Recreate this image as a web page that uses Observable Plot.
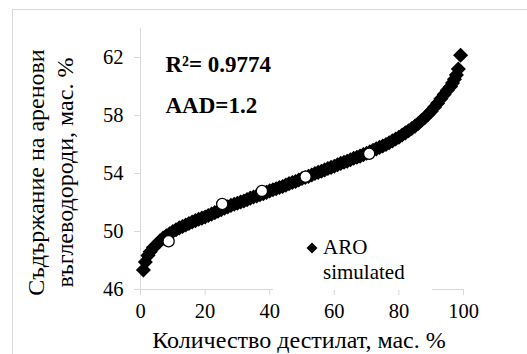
<!DOCTYPE html>
<html>
<head>
<meta charset="utf-8">
<script src="https://cdn.jsdelivr.net/npm/d3@7"></script>
<script src="https://cdn.jsdelivr.net/npm/@observablehq/plot@0.6"></script>
<style>
  html, body { margin: 0; padding: 0; background: #fff; overflow: hidden; }
  #wrap { position: relative; width: 527px; height: 354px; font-family: "Liberation Serif", "Times New Roman", serif !important; }
  #wrap svg, #wrap svg text, #wrap svg tspan { font-family: "Liberation Serif", "Times New Roman", serif !important; }
  #border { position: absolute; left: 12px; top: 9px; width: 600px; height: 400px; border: 1px solid #d9d9d9; box-sizing: border-box; }
  #chart { position: absolute; left: 0; top: 0; }
  #legend { position: absolute; left: 273px; top: 232px; width: 159px; height: 58px; background: #fff; font-size: 21px; color: #000; font-family: "Liberation Serif", "Times New Roman", serif !important; }
  #legend .l1 { position: absolute; left: 50px; top: 5px; line-height: 21px; white-space: nowrap; }
  #legend .l2 { position: absolute; left: 50px; top: 30px; line-height: 21px; white-space: nowrap; }
  #legend svg { position: absolute; left: 33px; top: 10px; }
</style>
</head>
<body>
<div id="wrap">
  <div id="border"></div>
  <div id="chart"></div>
  <div id="legend">
    <svg width="12" height="12" viewBox="-6 -6 12 12"><path d="M0,-5.5L5.5,0L0,5.5L-5.5,0Z" fill="#000"/></svg>
    <div class="l1">ARO</div>
    <div class="l2">simulated</div>
  </div>
</div>
<script>
// Simulated ARO content (diamonds)
const simX = [0.9, 1.5, 2.3, 3, 4, 5, 6, 7, 8, 9, 10, 11, 12, 13, 14, 15, 16, 17, 18, 19, 20,
  21, 22, 23, 24, 25, 26, 27, 28, 29, 30, 31, 32, 33, 34, 35, 36, 37, 38, 39, 40,
  41, 42, 43, 44, 45, 46, 47, 48, 49, 50, 51, 52, 53, 54, 55, 56, 57, 58, 59, 60,
  61, 62, 63, 64, 65, 66, 67, 68, 69, 70, 71, 72, 73, 74, 75, 76, 77, 78, 79, 80,
  81, 82, 83, 84, 85, 86, 87, 88, 89, 90, 91, 92, 93, 94, 95, 96, 96.6, 97.2, 97.8, 98.4, 99.1];
const simY = [47.35, 47.9, 48.35, 48.6, 48.9, 49.1, 49.35, 49.55, 49.7, 49.85, 50.0, 50.12, 50.25, 50.35, 50.45, 50.55, 50.65, 50.75, 50.85, 50.92, 51.0,
  51.1, 51.2, 51.3, 51.4, 51.5, 51.6, 51.7, 51.8, 51.88, 51.95, 52.03, 52.1, 52.2, 52.3, 52.38, 52.45, 52.53, 52.6, 52.7, 52.8,
  52.88, 52.95, 53.03, 53.1, 53.2, 53.3, 53.38, 53.45, 53.55, 53.65, 53.72, 53.8, 53.9, 54.0, 54.08, 54.15, 54.25, 54.35, 54.42, 54.5,
  54.6, 54.7, 54.78, 54.85, 54.95, 55.05, 55.12, 55.2, 55.3, 55.4, 55.5, 55.6, 55.7, 55.8, 55.9, 56.0, 56.12, 56.25, 56.38, 56.5,
  56.65, 56.8, 56.95, 57.1, 57.27, 57.45, 57.65, 57.85, 58.07, 58.3, 58.57, 58.85, 59.15, 59.45, 59.75, 60.0, 60.25, 60.5, 60.8, 61.2, 62.15];

// Experimental points (open circles)
const expX = [8.7, 25.3, 37.6, 51.1, 70.8];
const expY = [49.33, 51.9, 52.8, 53.78, 55.36];

const xTicks = [0, 20, 40, 60, 80, 100];
const yTicks = [46, 50, 54, 58, 62];

const statR2 = "R²= 0.9774";
const statAAD = "AAD=1.2";
const xTitle = "Количество дестилат, мас. %";
const yTitle = "Съдържание на аренови\nвъглеводороди, мас. %";

const sim = simX.map((x, i) => ({x, y: simY[i]}));
const exp = expX.map((x, i) => ({x, y: expY[i]}));

const axisGray = "#d9d9d9";
const serif = "Liberation Serif";

const chart = Plot.plot({
  width: 527,
  height: 354,
  marginLeft: 140,
  marginRight: 64,
  marginTop: 28,
  marginBottom: 65,
  style: {fontFamily: "'Liberation Serif', 'Times New Roman', serif", fontSize: "20px", color: "#000", background: "transparent", overflow: "visible"},
  x: {domain: [0, 100], axis: null},
  y: {domain: [46, 64], axis: null},
  marks: [
    Plot.ruleY([46], {stroke: axisGray, strokeWidth: 1}),
    Plot.ruleX([0], {stroke: axisGray, strokeWidth: 1}),
    Plot.axisX({ticks: xTicks, tickSize: 6, tickPadding: 8, stroke: axisGray, fill: "#000", label: null, fontSize: 20.5, fontFamily: serif}),
    Plot.axisY({ticks: yTicks, tickSize: 6, tickPadding: 11, stroke: axisGray, fill: "#000", label: null, fontSize: 20.5, fontFamily: serif}),
    Plot.dot(sim, {x: "x", y: "y", symbol: "diamond2", r: 6.8, fill: "#000", stroke: "none"}),
    Plot.dot(exp, {x: "x", y: "y", r: 5.6, fill: "#fff", stroke: "#000", strokeWidth: 1.3}),
    Plot.text([statR2], {text: d => d, frameAnchor: "top-left", textAnchor: "start", lineAnchor: "middle", dx: 25, dy: 36.6, fontSize: 23, fontWeight: "bold", fontFamily: serif, fill: "#000"}),
    Plot.text([statAAD], {text: d => d, frameAnchor: "top-left", textAnchor: "start", lineAnchor: "middle", dx: 25, dy: 77.6, fontSize: 23, fontWeight: "bold", fontFamily: serif, fill: "#000"}),
    Plot.text([xTitle], {text: d => d, frameAnchor: "bottom", textAnchor: "middle", lineAnchor: "middle", dx: -3, dy: 51.3, fontSize: 24, fontFamily: serif, fill: "#000"}),
    Plot.text([yTitle], {text: d => d, frameAnchor: "left", textAnchor: "middle", lineAnchor: "middle", rotate: -90, dx: -91.2, dy: 13.5, lineHeight: 1.208, fontSize: 24, fontFamily: serif, fill: "#000"})
  ]
});
document.getElementById("chart").appendChild(chart);
</script>
</body>
</html>
